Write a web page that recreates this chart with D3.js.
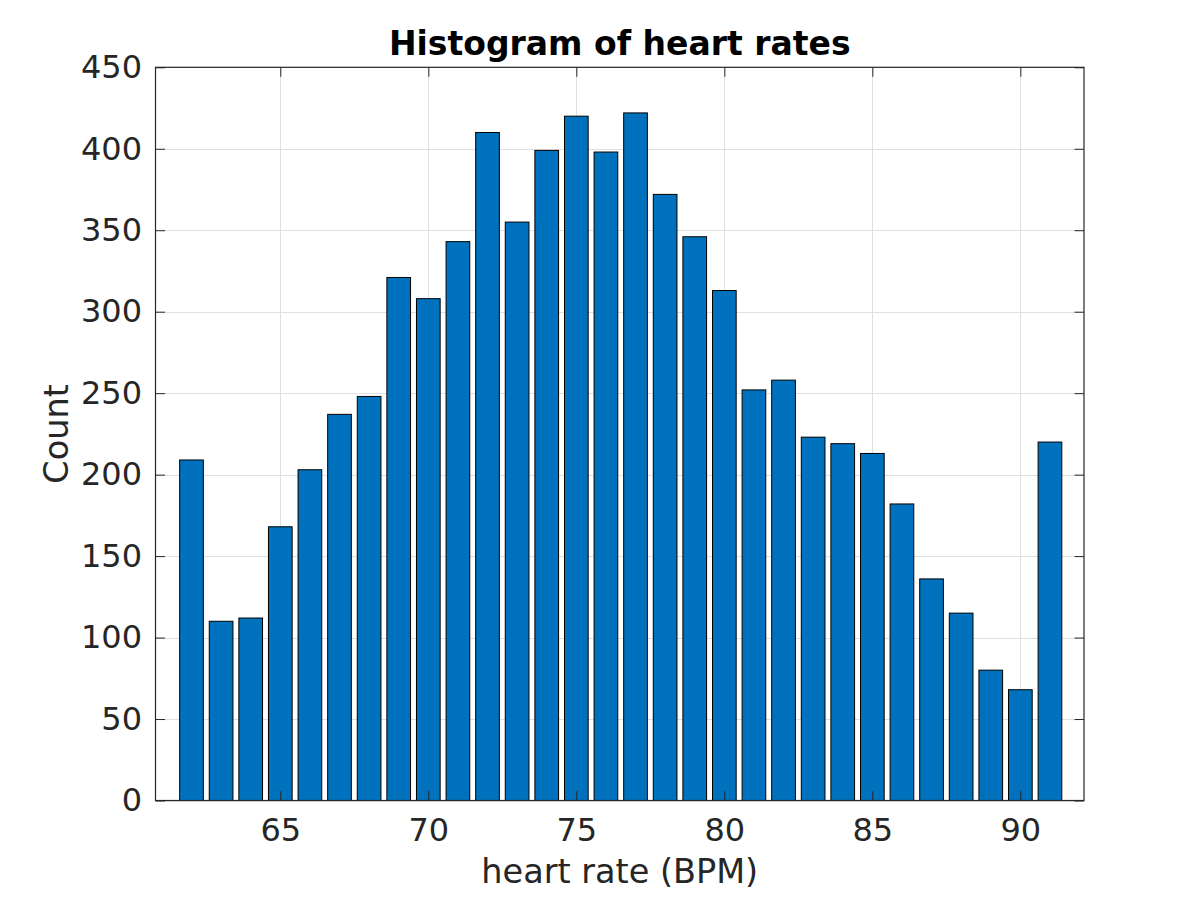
<!DOCTYPE html>
<html><head><meta charset="utf-8">
<script src="https://cdn.jsdelivr.net/npm/d3@7"></script>
<style>body{margin:0;background:#fff} svg{display:block}</style>
</head><body>
<script>
const binCenters = [62,63,64,65,66,67,68,69,70,71,72,73,74,75,76,77,78,79,80,81,82,83,84,85,86,87,88,89,90,91];
const counts = [209,110,112,168,203,237,248,321,308,343,410,355,399,420,398,422,372,346,313,252,258,223,219,213,182,136,115,80,68,220];
const xTicks = [65,70,75,80,85,90];
const yTicks = [0,50,100,150,200,250,300,350,400,450];
const titleText = "Histogram of heart rates";
const xLabel = "heart rate (BPM)";
const yLabel = "Count";

const W = 1200, H = 900;
const L = 155.5, R = 1084, T = 67.3, B = 800.5;
const font = "'DejaVu Sans', sans-serif";
const fs = 32;
const lfs = 33.5;
const axisColor = "#262626";

const svg = d3.select("body").append("svg").attr("width", W).attr("height", H);

const x = d3.scaleLinear().domain([60.784, 92.15]).range([L, R]);
const y = d3.scaleLinear().domain([0, 450]).range([B, T]);

// grid
const grid = svg.append("g").attr("stroke", "#dfdfdf").attr("stroke-width", 1);
grid.selectAll("line.gx").data(xTicks).join("line")
  .attr("x1", d => Math.round(x(d)) + 0.5).attr("x2", d => Math.round(x(d)) + 0.5)
  .attr("y1", T).attr("y2", B);
grid.selectAll("line.gy").data(yTicks).join("line")
  .attr("y1", d => Math.round(y(d)) + 0.5).attr("y2", d => Math.round(y(d)) + 0.5)
  .attr("x1", L).attr("x2", R);

// bars
const bw = 0.8;
svg.append("g").selectAll("rect").data(binCenters).join("rect")
  .attr("x", (d) => x(d - bw/2))
  .attr("width", (d) => x(d + bw/2) - x(d - bw/2))
  .attr("y", (d, i) => y(counts[i]))
  .attr("height", (d, i) => y(0) - y(counts[i]))
  .attr("fill", "#0072BD")
  .attr("stroke", "#000")
  .attr("stroke-width", 1);

// axes
const tl = 9.5;
const axB = svg.append("g").attr("transform", `translate(0,${B})`)
  .call(d3.axisBottom(x).tickValues(xTicks).tickSizeInner(-tl).tickSizeOuter(0).tickPadding(17.5));
const axT = svg.append("g").attr("transform", `translate(0,${T})`)
  .call(d3.axisTop(x).tickValues(xTicks).tickSizeInner(-tl).tickSizeOuter(0).tickFormat(""));
const axL = svg.append("g").attr("transform", `translate(${L},0)`)
  .call(d3.axisLeft(y).tickValues(yTicks).tickSizeInner(-tl).tickSizeOuter(0).tickPadding(13.5));
const axR = svg.append("g").attr("transform", `translate(${R},0)`)
  .call(d3.axisRight(y).tickValues(yTicks).tickSizeInner(-tl).tickSizeOuter(0).tickFormat(""));
[axB, axT, axL, axR].forEach(a => {
  a.select(".domain").remove();
  a.selectAll("line").attr("stroke", axisColor).attr("stroke-width", 1);
  a.selectAll("text").attr("fill", axisColor).style("font-family", font).style("font-size", fs + "px");
});

svg.append("rect").attr("x", L).attr("y", T).attr("width", R - L).attr("height", B - T)
  .attr("fill", "none").attr("stroke", axisColor).attr("stroke-width", 1.2);

// labels
svg.append("text").attr("x", (L + R) / 2).attr("y", 54.5)
  .attr("text-anchor", "middle").attr("fill", "#000")
  .style("font-family", font).style("font-weight", "bold").style("font-size", "33px")
  .text(titleText);
svg.append("text").attr("x", (L + R) / 2).attr("y", 883)
  .attr("text-anchor", "middle").attr("fill", axisColor)
  .style("font-family", font).style("font-size", lfs + "px")
  .text(xLabel);
svg.append("text").attr("transform", `translate(68,${(T + B) / 2}) rotate(-90)`)
  .attr("text-anchor", "middle").attr("fill", axisColor)
  .style("font-family", font).style("font-size", lfs + "px")
  .text(yLabel);
</script>
</body></html>
